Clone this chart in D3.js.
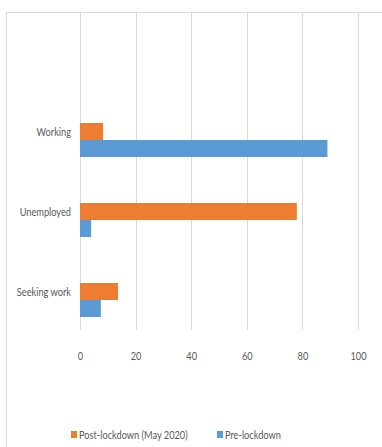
<!DOCTYPE html>
<html>
<head>
<meta charset="utf-8">
<script src="https://cdn.jsdelivr.net/npm/d3@7"></script>
<style>
  body { margin: 0; background: #fff; }
  text { font-family: Lato, "Open Sans", sans-serif; fill: #595959; }
</style>
</head>
<body>
<svg id="chart" width="382" height="447"></svg>
<script>
"use strict";

// categories top to bottom, values in percent
let categories = ["Working", "Unemployed", "Seeking work"];
let postLockdown = [8.3, 78, 13.7];
let preLockdown = [89, 4, 7.5];
let seriesNames = ["Post-lockdown (May 2020)", "Pre-lockdown"];
let tickValues = [0, 20, 40, 60, 80, 100];

let colors = ["#ED7D31", "#5B9BD5"];
let series = [postLockdown, preLockdown];
let squeeze = 0.77; // the picture's text is very narrow

let svg = d3.select("#chart");

// outer chart frame (only top and left edges visible)
svg.append("line").attr("x1", 6).attr("x2", 382).attr("y1", 12.5).attr("y2", 12.5)
  .attr("stroke", "#d9d9d9");
svg.append("line").attr("x1", 6.5).attr("x2", 6.5).attr("y1", 12).attr("y2", 447)
  .attr("stroke", "#d9d9d9");

let x = d3.scaleLinear().domain([0, 100]).range([80, 358]);

let y = d3.scaleBand()
  .domain(categories)
  .range([100, 340])
  .paddingInner(0.575)
  .paddingOuter(0.2875);

let ySub = d3.scaleBand()
  .domain(d3.range(series.length))
  .range([0, y.bandwidth()]);

// gridlines
svg.append("g").selectAll("line").data(tickValues).enter()
  .append("line")
  .attr("x1", d => Math.round(x(d)) + 0.5)
  .attr("x2", d => Math.round(x(d)) + 0.5)
  .attr("y1", 13)
  .attr("y2", 330)
  .attr("stroke", "#d9d9d9");

// bars
let groups = svg.append("g").selectAll("g").data(categories).enter()
  .append("g")
  .attr("transform", d => `translate(0,${y(d)})`);

groups.selectAll("rect")
  .data((d, i) => series.map((s, j) => ({ s: j, v: s[i] })))
  .enter()
  .append("rect")
  .attr("x", x(0))
  .attr("y", d => ySub(d.s))
  .attr("width", d => x(d.v) - x(0))
  .attr("height", ySub.bandwidth())
  .attr("fill", d => colors[d.s]);

// category labels (aligned with first bar)
svg.append("g").selectAll("text").data(categories).enter()
  .append("text")
  .attr("transform", d => `translate(71,${y(d) + ySub(0) + ySub.bandwidth() / 2}) scale(${squeeze},1)`)
  .attr("dy", "0.35em")
  .attr("text-anchor", "end")
  .attr("font-size", 12)
  .text(d => d);

// x axis tick labels
let xAxis = d3.axisBottom(x).tickValues(tickValues).tickSize(0).tickPadding(0);
let gx = svg.append("g").attr("transform", "translate(0,351)").call(xAxis);
gx.select(".domain").remove();
gx.selectAll("text")
  .attr("transform", `scale(${squeeze},1)`)
  .attr("font-size", 12)
  .attr("fill", "#595959")
  .style("font-family", "Lato, sans-serif");

// legend
let legendX = [71, 217];
let legend = svg.append("g").selectAll("g").data(seriesNames).enter()
  .append("g")
  .attr("transform", (d, i) => `translate(${legendX[i]},431)`);

legend.append("rect")
  .attr("width", 6)
  .attr("height", 7)
  .attr("fill", (d, i) => colors[i]);

legend.append("text")
  .attr("transform", `translate(8,3.5) scale(${squeeze},1)`)
  .attr("dy", "0.35em")
  .attr("font-size", 12)
  .text(d => d);
</script>
</body>
</html>
